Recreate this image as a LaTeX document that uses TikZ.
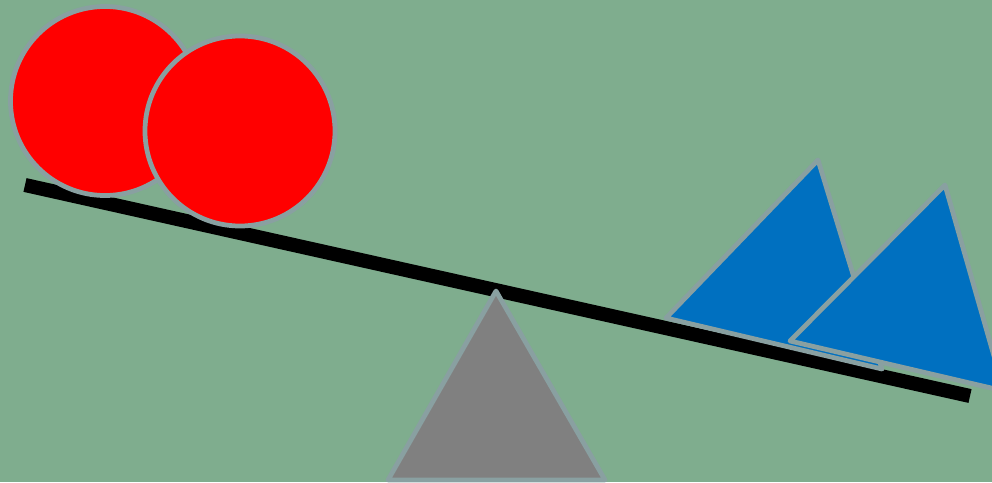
\documentclass[tikz,border=0pt]{standalone}
\begin{document}
\begin{tikzpicture}[x=0.01cm,y=-0.01cm,
  outline/.style={draw=edgec,line width=1.35pt,line join=round},
  beam/.style={line width=4pt,line cap=butt}]
\definecolor{bgc}{RGB}{127,173,142}
\definecolor{edgec}{RGB}{137,160,161}
\definecolor{ballc}{RGB}{255,0,0}
\definecolor{blockc}{RGB}{0,112,192}
\definecolor{baseg}{RGB}{128,128,128}
\useasboundingbox (0,0) rectangle (992,482);
\fill[bgc] (0,0) rectangle (992,482);
\begin{scope}
\clip (0,0) rectangle (992,482);
% beam
\coordinate (bl) at (25,185);
\coordinate (br) at (970,396);
\draw[beam] (bl) -- (br);
% fulcrum
\filldraw[outline,fill=baseg] (496,291) -- (388,480) -- (605,480) -- cycle;
% balls
\filldraw[outline,fill=ballc] (105,101) circle (94.5);
\filldraw[outline,fill=ballc] (240,131) circle (95);
% blocks
\filldraw[outline,fill=blockc] (818,160) -- (882,369) -- (666,318) -- cycle;
\filldraw[outline,fill=blockc] (945,185) -- (1004,391) -- (790,341) -- cycle;
\end{scope}
\end{tikzpicture}
\end{document}
